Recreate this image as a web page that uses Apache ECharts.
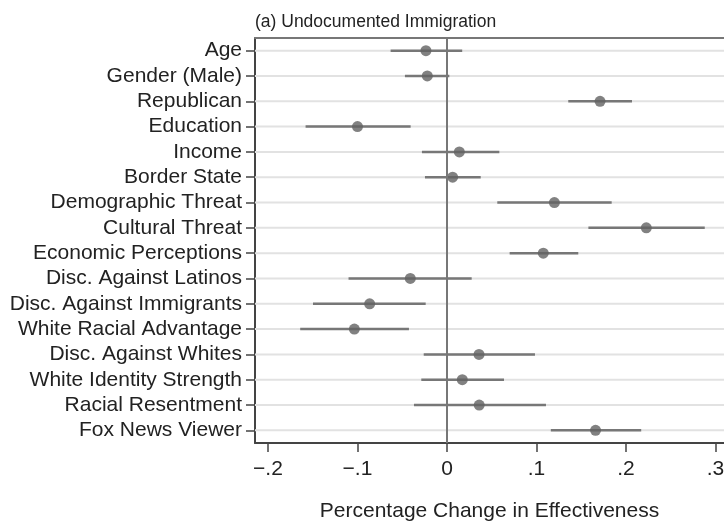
<!DOCTYPE html>
<html><head><meta charset="utf-8">
<script src="https://cdn.jsdelivr.net/npm/echarts@6/dist/echarts.min.js"></script>
<style>html,body{margin:0;padding:0;background:#fff}#c{width:724px;height:521px}</style>
</head><body><div id="c"></div>
<script>
const categories = ["Age","Gender (Male)","Republican","Education","Income","Border State","Demographic Threat","Cultural Threat","Economic Perceptions","Disc. Against Latinos","Disc. Against Immigrants","White Racial Advantage","Disc. Against Whites","White Identity Strength","Racial Resentment","Fox News Viewer"];
const estimates = [-0.0235,-0.022,0.171,-0.100,0.0138,0.0063,0.120,0.2227,0.1076,-0.041,-0.0864,-0.1035,0.0358,0.0171,0.036,0.166];
const ciLow = [-0.063,-0.047,0.1355,-0.158,-0.028,-0.0246,0.0562,0.158,0.070,-0.110,-0.1497,-0.164,-0.026,-0.0287,-0.0369,0.116];
const ciHigh = [0.017,0.0026,0.2067,-0.0406,0.0585,0.0377,0.184,0.288,0.1467,0.0276,-0.0238,-0.0425,0.0983,0.0637,0.1106,0.217];
const xTicks = [-0.2,-0.1,0,0.1,0.2,0.3];
const xMin = -0.2145, xMax = 0.3095;

const FONT = '"Liberation Sans", Arial, Helvetica, sans-serif';
const chart = echarts.init(document.getElementById('c'));
function fmt(v){
  if (Math.abs(v) < 1e-9) return '0';
  const s = Math.abs(v).toFixed(1).replace(/^0/,'');
  return (v < 0 ? '\u2212' : '') + s;
}
chart.setOption({
  animation:false,
  backgroundColor:'#fff',
  title:{text:'(a) Undocumented Immigration', left:250, top:8,
    textStyle:{fontFamily:FONT, fontSize:17.5, fontWeight:'normal', color:'#222'}},
  grid:{left:255, right:0, top:38, bottom:78, outerBoundsMode:'none', containLabel:false},
  xAxis:[{
    type:'value', min:xMin, max:xMax,
    name:'Percentage Change in Effectiveness', nameLocation:'middle', nameGap:58,
    nameTextStyle:{fontFamily:FONT, fontSize:21, color:'#222'},
    axisLine:{show:true, onZero:false, lineStyle:{color:'#444', width:2}},
    axisTick:{show:true, length:9, lineStyle:{color:'#444', width:1.5}, customValues:xTicks},
    axisLabel:{customValues:xTicks, formatter:fmt, fontFamily:FONT, fontSize:21, color:'#222', margin:16, hideOverlap:false, showMaxLabel:true, showMinLabel:true},
    splitLine:{show:false}
  },{
    type:'value', position:'top', min:xMin, max:xMax,
    axisLine:{show:true, onZero:false, lineStyle:{color:'#777', width:2}},
    axisTick:{show:false}, axisLabel:{show:false}, splitLine:{show:false}
  }],
  yAxis:{
    type:'category', data:categories, inverse:true,
    axisLine:{show:true, onZero:false, lineStyle:{color:'#444', width:2}},
    axisTick:{show:true, alignWithLabel:true, length:9, lineStyle:{color:'#444', width:1.5}},
    axisLabel:{fontFamily:FONT, fontSize:21, color:'#222', margin:13, interval:0},
    splitLine:{show:false}
  },
  series:[
    {
      type:'custom', z:1, silent:true,
      data:categories.map((c,i)=>[i]),
      renderItem:function(params, api){
        const i = api.value(0);
        const a = api.coord([xMin, i]);
        const b = api.coord([xMax, i]);
        return {type:'line', shape:{x1:a[0], y1:a[1], x2:b[0], y2:b[1]},
          style:{stroke:'#e2e2e2', lineWidth:2}};
      }
    },
    {
      type:'custom', z:3, silent:true,
      data:categories.map((c,i)=>[ciLow[i], ciHigh[i], i]),
      renderItem:function(params, api){
        const a = api.coord([api.value(0), api.value(2)]);
        const b = api.coord([api.value(1), api.value(2)]);
        return {type:'line', shape:{x1:a[0], y1:a[1], x2:b[0], y2:b[1]},
          style:{stroke:'#777', lineWidth:2.5}};
      }
    },
    {
      type:'scatter', z:4, symbol:'circle', symbolSize:11,
      itemStyle:{color:'#616161'},
      data:categories.map((c,i)=>[estimates[i], i]),
      markLine:{
        silent:true, symbol:'none', label:{show:false}, animation:false,
        lineStyle:{color:'#777', width:2, type:'solid'},
        data:[{xAxis:0}]
      }
    }
  ]
});
</script></body></html>
